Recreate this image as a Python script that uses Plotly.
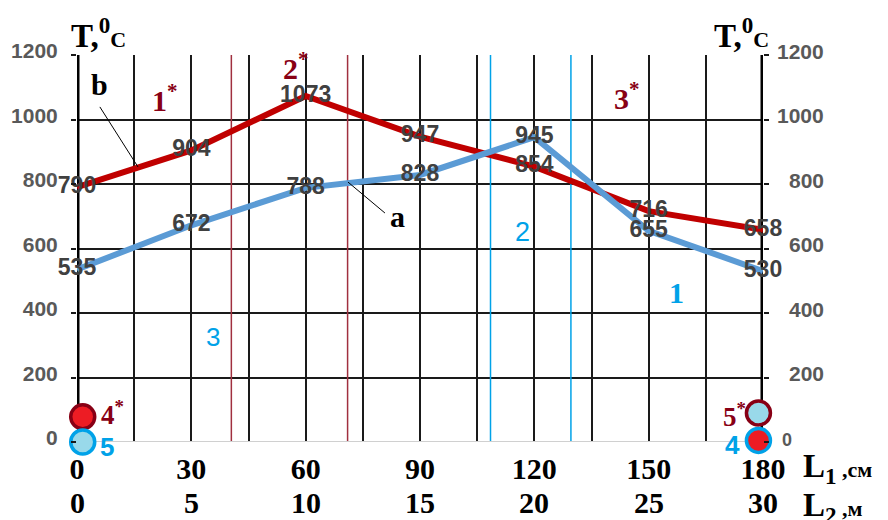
import plotly.graph_objects as go

# Distance along the sample: L1 in cm, L2 in m
L1 = [0, 30, 60, 90, 120, 150, 180]
L2 = [0, 5, 10, 15, 20, 25, 30]

# Temperature profiles, °C
temp_a = [535, 672, 788, 828, 945, 655, 530]
temp_b = [790, 904, 1073, 947, 854, 716, 658]

y_ticks = [0, 200, 400, 600, 800, 1000, 1200]

# Zone boundaries (L1, cm)
zone_red = [40.5, 71.0]
zone_blue = [108.5, 129.6]

# End-point markers: (L1, T)
end_red_left = ([1.5], [78])
end_blue_left = ([1.5], [0])
end_mixed_right = ([178.8], [90])
end_red_right = ([178.8], [5])

DARK_RED = "#880015"
RED = "#C00000"
BLUE_LINE = "#5B9BD5"
SKY = "#00A2E8"
LIGHT_SKY = "#99D9EA"
SERIF = "Liberation Serif"
SANS = "Liberation Sans"

fig = go.Figure()

# Temperature curves
fig.add_trace(go.Scatter(x=L1, y=temp_b, mode="lines",
                         line=dict(color=RED, width=6), cliponaxis=False))
fig.add_trace(go.Scatter(x=L1, y=temp_a, mode="lines",
                         line=dict(color=BLUE_LINE, width=6), cliponaxis=False))

# Value labels
for vals in (temp_b, temp_a):
    fig.add_trace(go.Scatter(
        x=L1, y=vals, mode="text", text=[str(v) for v in vals],
        textposition="middle center", cliponaxis=False,
        textfont=dict(family=SANS, size=23, color="#404040", weight="bold")))

# End-point circles
def circle(pt, fill, edge):
    fig.add_trace(go.Scatter(
        x=pt[0], y=pt[1], mode="markers", cliponaxis=False,
        marker=dict(size=24, color=fill, line=dict(color=edge, width=3.5))))

circle(end_red_left, "#ED1C24", DARK_RED)
circle(end_blue_left, LIGHT_SKY, SKY)
circle(end_mixed_right, LIGHT_SKY, DARK_RED)
circle(end_red_right, "#ED1C24", SKY)

shapes = []
# Heavy frame lines on both temperature axes
for xv in (0, 180):
    shapes.append(dict(type="line", xref="x", yref="y", x0=xv, x1=xv, y0=0, y1=1200,
                       line=dict(color="black", width=5), layer="between"))
# Zone boundaries
for xv in zone_red:
    shapes.append(dict(type="line", xref="x", yref="y", x0=xv, x1=xv, y0=-8, y1=1205,
                       line=dict(color="#A0303F", width=1.5), layer="between"))
for xv in zone_blue:
    shapes.append(dict(type="line", xref="x", yref="y", x0=xv, x1=xv, y0=0, y1=1200,
                       line=dict(color=SKY, width=1.5), layer="between"))
# Leader lines for curve names
shapes.append(dict(type="line", xref="x", yref="y", x0=6.0, y0=1039, x1=16.0, y1=853,
                   line=dict(color="black", width=1), layer="above"))
shapes.append(dict(type="line", xref="x", yref="y", x0=71.1, y0=806, x1=80.8, y1=710,
                   line=dict(color="black", width=1), layer="above"))
# Light baseline at 0
shapes.append(dict(type="line", xref="x", yref="y", x0=0, x1=180, y0=0, y1=0,
                   line=dict(color="#d0d0d0", width=2), layer="between"))

ann = []

def note(x, y, text, size, color, family=SERIF, bold=True, xref="x", yref="y",
         xanchor="center", yshift=0):
    ann.append(dict(x=x, y=y, xref=xref, yref=yref, text=text, showarrow=False,
                    xanchor=xanchor, yanchor="middle", yshift=yshift,
                    font=dict(family=family, size=size, color=color,
                              weight="bold" if bold else "normal")))

# Curve names
note(6.0, 1107, "b", 30, "black")
note(84.0, 698, "a", 30, "black")
# Zone marks
note(23.1, 1067, "1<sup>*</sup>", 30, DARK_RED)
note(57.5, 1165, "2<sup>*</sup>", 30, DARK_RED)
note(144.3, 1073, "3<sup>*</sup>", 30, DARK_RED)
note(35.7, 326, "3", 26, SKY, family=SANS, bold=False)
note(117.0, 651, "2", 27, SKY, family=SANS, bold=False)
note(157.4, 465, "1", 30, SKY)
note(9.4, 90, "4<sup>*</sup>", 27, DARK_RED)
note(7.9, 0, "5", 26, SKY, family=SANS, yshift=-5)
note(172.6, 84, "5<sup>*</sup>", 27, DARK_RED)
note(171.9, 0, "4", 26, SKY, family=SANS, yshift=-3)

# Second distance scale (L2, m) under the L1 ticks
for xv, lab in zip(L1, L2):
    note(xv, -0.157, str(lab), 30, "black", yref="paper")

# Axis titles
title_T = "T,<sup>0</sup><span style='font-size:22px'>C</span>"
note(0.031, 1.057, title_T, 33, "black", xref="paper", yref="paper")
note(0.969, 1.057, title_T, 33, "black", xref="paper", yref="paper")
note(1.055, -0.068, "L<sub>1</sub><span style='font-size:22px'> ,см</span>", 33, "black",
     xref="paper", yref="paper", xanchor="left")
note(1.055, -0.168, "L<sub>2</sub><span style='font-size:22px'> ,м</span>", 33, "black",
     xref="paper", yref="paper", xanchor="left")

# Right temperature scale
for v in y_ticks:
    if v == 0:
        note(1.025, v, "0", 18, "#595959", family=SANS, xref="paper",
             xanchor="left", yshift=2)
    else:
        note(1.092, v, str(v), 21, "#595959", family=SANS, xref="paper",
             xanchor="right", yshift=4)

fig.update_layout(
    width=888, height=520,
    margin=dict(l=77, r=125, t=55, b=78),
    paper_bgcolor="white", plot_bgcolor="white",
    showlegend=False,
    shapes=shapes, annotations=ann,
    xaxis=dict(
        range=[0, 180], tickvals=L1, ticktext=[str(v) for v in L1],
        tickfont=dict(family=SERIF, size=30, color="black", weight="bold"),
        showgrid=True, gridcolor="#1a1a1a", gridwidth=1.5,
        minor=dict(dtick=15, tick0=0, showgrid=True, gridcolor="#1a1a1a", gridwidth=1.5),
        zeroline=False, showline=False, ticks="", ticklabelstandoff=6,
    ),
    yaxis=dict(
        range=[0, 1200], tickvals=y_ticks,
        tickfont=dict(family=SANS, size=21, color="#595959", weight="bold"),
        showgrid=True, gridcolor="#1a1a1a", gridwidth=1.5,
        zeroline=False, showline=False,
        ticks="outside", ticklen=5, tickcolor="#1a1a1a", tickwidth=1.5,
        mirror="ticks", ticklabelstandoff=9, ticklabelshift=-4,
    ),
)

fig.write_html("out.html")
